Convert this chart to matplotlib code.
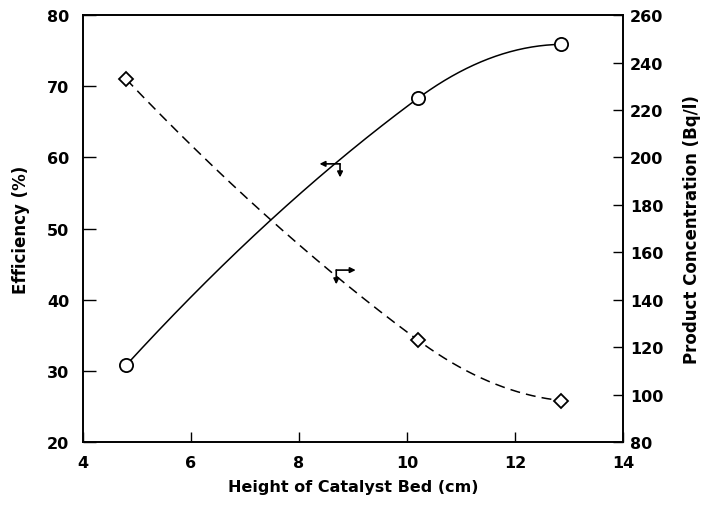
import numpy as np
import matplotlib
matplotlib.use("Agg")
import matplotlib.pyplot as plt

plt.rcParams['font.family'] = ['DejaVu Sans']
plt.rcParams['font.weight'] = 'bold'

# Data
height = [4.8, 10.2, 12.85]
efficiency = [30.8, 68.3, 75.9]
concentration = [233.0, 123.0, 97.5]

x_ticks = [4, 6, 8, 10, 12, 14]
eff_ticks = [20, 30, 40, 50, 60, 70, 80]
conc_ticks = [80, 100, 120, 140, 160, 180, 200, 220, 240, 260]

# annotation arrow anchors (data coords)
arrow_eff = (8.76, 59.1)     # on efficiency axis
arrow_conc = (8.69, 152.5)   # on concentration axis


def smooth(x, y, n=300):
    """Piecewise cubic Hermite curve through the points (smooth line drawing)."""
    x = np.asarray(x, float)
    y = np.asarray(y, float)
    h = np.diff(x)
    s = np.diff(y) / h
    m = np.empty(len(x))
    for i in range(1, len(x) - 1):
        m[i] = (h[i - 1] * s[i - 1] + h[i] * s[i]) / (h[i - 1] + h[i])
    m[0] = 2 * s[0] - m[1]
    m[-1] = 2 * s[-1] - m[-2]
    xs = np.linspace(x[0], x[-1], n)
    idx = np.clip(np.searchsorted(x, xs, side='right') - 1, 0, len(x) - 2)
    hi = h[idx]
    t = (xs - x[idx]) / hi
    h00 = 2 * t ** 3 - 3 * t ** 2 + 1
    h10 = t ** 3 - 2 * t ** 2 + t
    h01 = -2 * t ** 3 + 3 * t ** 2
    h11 = t ** 3 - t ** 2
    ys = h00 * y[idx] + h10 * hi * m[idx] + h01 * y[idx + 1] + h11 * hi * m[idx + 1]
    return xs, ys


fig = plt.figure(figsize=(7.05, 5.06), dpi=100)
ax = fig.add_axes([0.1177, 0.1245, 0.7660, 0.8435])
ax2 = ax.twinx()

lw = 1.1
xs, ys = smooth(height, efficiency)
ax.plot(xs, ys, color='black', lw=lw, zorder=2)
ax.plot(height, efficiency, linestyle='none', marker='o', ms=9.5,
        mfc='white', mec='black', mew=1.3, zorder=3)

xs2, ys2 = smooth(height, concentration)
ax2.plot(xs2, ys2, color='black', lw=lw, dashes=(6.5, 4), zorder=2)
ax2.plot(height, concentration, linestyle='none', marker='D', ms=7.5,
         mfc='white', mec='black', mew=1.3, zorder=3)

ax.set_xlim(4, 14)
ax.set_ylim(20, 80)
ax2.set_ylim(80, 260)
ax.set_xticks(x_ticks)
ax.set_yticks(eff_ticks)
ax2.set_yticks(conc_ticks)

fs = 11.5
ax.tick_params(axis='both', direction='in', length=7, width=1, labelsize=fs,
               top=False, right=False)
ax.tick_params(axis='x', pad=9)
ax.tick_params(axis='y', pad=10, length=9)
ax2.tick_params(axis='y', direction='in', length=7, width=1, labelsize=fs, pad=5)
ax.set_xticklabels(['' if v == 4 else str(v) for v in x_ticks])
for a in (ax, ax2):
    for s in a.spines.values():
        s.set_linewidth(1.2)

ax.annotate(str(x_ticks[0]), xy=(x_ticks[0], 20), xycoords='data',
            xytext=(0, -9.5), textcoords='offset points', ha='center', va='top',
            fontsize=fs, fontweight='bold')

ax.set_xlabel('Height of Catalyst Bed (cm)', fontsize=11.5, fontweight='bold', labelpad=7)
ax.set_ylabel('Efficiency (%)', fontsize=12, fontweight='bold', labelpad=12)
ax2.set_ylabel('Product Concentration (Bq/l)', fontsize=12, fontweight='bold', labelpad=14)

# annotation arrows
arr = dict(arrowstyle='-|>', color='black', lw=1.2, mutation_scale=8,
           shrinkA=0, shrinkB=0)
x0, y0 = arrow_eff
ax.annotate('', xy=(x0 - 0.38, y0), xytext=(x0, y0), arrowprops=arr)
ax.annotate('', xy=(x0, y0 - 1.9), xytext=(x0, y0), arrowprops=arr)
x1, y1 = arrow_conc
ax2.annotate('', xy=(x1 + 0.36, y1), xytext=(x1, y1), arrowprops=arr)
ax2.annotate('', xy=(x1, y1 - 6.0), xytext=(x1, y1), arrowprops=arr)

fig.savefig('out.png', dpi=100)
